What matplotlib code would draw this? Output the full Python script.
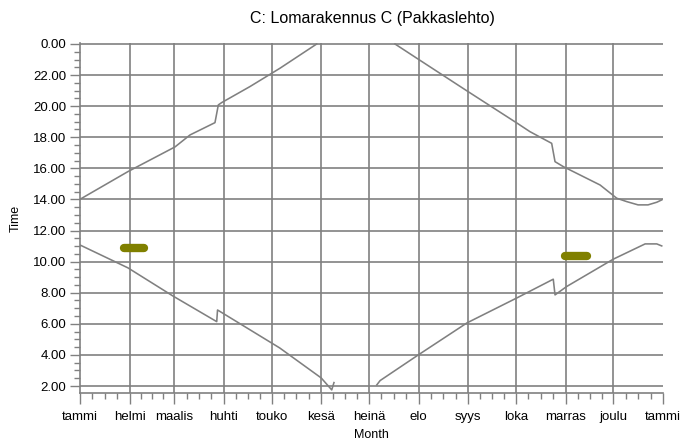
import matplotlib
matplotlib.use('Agg')
import matplotlib.pyplot as plt
from matplotlib.ticker import FixedLocator, MultipleLocator, FuncFormatter

plt.rcParams['font.family'] = ['Liberation Sans', 'DejaVu Sans']

# Month axis (day of year)
month_labels = ['tammi', 'helmi', 'maalis', 'huhti', 'touko', 'kesä', 'heinä',
                'elo', 'syys', 'loka', 'marras', 'joulu', 'tammi']
month_starts = [0, 31, 59, 90, 120, 151, 181, 212, 243, 273, 304, 334, 365]

# Lower curve (morning), first half and second half of the year
am_spring_day = [0, 30, 58, 85.6, 86.1, 125, 151, 157.6, 159]
am_spring_hour = [11.07, 9.60, 7.80, 6.14, 6.89, 4.45, 2.52, 1.75, 2.22]
am_autumn_day = [185.8, 187.9, 211.8, 242.3, 273.6, 296.3, 297.4, 304.7,
                 333.9, 353.8, 361.1, 364.2]
am_autumn_hour = [2.07, 2.35, 4.0, 6.06, 7.67, 8.87, 7.86, 8.40,
                  10.16, 11.14, 11.14, 11.01]

# Upper curve (evening)
pm_spring_day = [0, 30, 59.5, 68.9, 84.5, 86.6, 88.7, 106.4, 125.2, 148.2]
pm_spring_hour = [14.01, 15.79, 17.38, 18.15, 18.94, 20.08, 20.23, 21.26, 22.44, 24.0]
pm_autumn_day = [197.2, 211.8, 242.3, 273.6, 281.7, 295.3, 297.4, 302.6,
                 325.6, 336.0, 342.3, 349.4, 355.6, 361.1, 364.2]
pm_autumn_hour = [24.0, 23.02, 20.98, 18.91, 18.36, 17.61, 16.43, 16.11,
                  14.93, 14.08, 13.86, 13.65, 13.65, 13.82, 13.97]

# Olive markers
bar_start = [27.5, 303.4]
bar_end = [40.0, 317.4]
bar_hour = [10.88, 10.39]

grey = '#808080'

fig = plt.figure(figsize=(6.81, 4.44), dpi=100)
ax = fig.add_axes([80 / 681, 1 - 393 / 444, 583 / 681, 349.8 / 444])

for d, h in [(am_spring_day, am_spring_hour), (am_autumn_day, am_autumn_hour),
             (pm_spring_day, pm_spring_hour), (pm_autumn_day, pm_autumn_hour)]:
    ax.plot(d, h, color=grey, lw=1.15, zorder=3)

for s, e, h in zip(bar_start, bar_end, bar_hour):
    ax.plot([s, e], [h, h], color='#808000', lw=6, solid_capstyle='round', zorder=4)

ax.set_xlim(0, 365)
ax.set_ylim(1.55, 24.05)

ax.xaxis.set_major_locator(FixedLocator(month_starts))
ax.set_xticklabels(month_labels, fontsize=9.5)
minor_x = []
for a, b in zip(month_starts[:-1], month_starts[1:]):
    minor_x += [a + k * (b - a) / 4 for k in range(1, 4)]
ax.xaxis.set_minor_locator(FixedLocator(minor_x))

ax.yaxis.set_major_locator(MultipleLocator(2))
ax.yaxis.set_minor_locator(MultipleLocator(0.5))
ax.yaxis.set_major_formatter(FuncFormatter(lambda v, p: '%.2f' % (v % 24)))
ax.tick_params(axis='y', labelsize=9.5)

ax.tick_params(which='major', direction='out', color=grey, width=1.0)
ax.tick_params(axis='x', which='major', length=8, pad=5)
ax.tick_params(axis='y', which='major', length=7, pad=3)
ax.tick_params(which='minor', direction='out', color=grey, width=1.0, length=4)

ax.grid(True, which='major', color=grey, lw=1.2)
ax.xaxis.get_gridlines()[-1].set_visible(False)
ax.xaxis.get_gridlines()[0].set_visible(False)

for side in ['top', 'right']:
    ax.spines[side].set_visible(False)
for side in ['left', 'bottom']:
    ax.spines[side].set_color(grey)
    ax.spines[side].set_linewidth(1.2)

ax.set_xlabel('Month', fontsize=9, labelpad=4)
ax.set_ylabel('Time', fontsize=9, labelpad=8)
fig.text(372 / 681, 1 - 18 / 444, 'C: Lomarakennus C (Pakkaslehto)',
         ha='center', va='center', fontsize=11.5)

fig.savefig('out.png', dpi=100)
